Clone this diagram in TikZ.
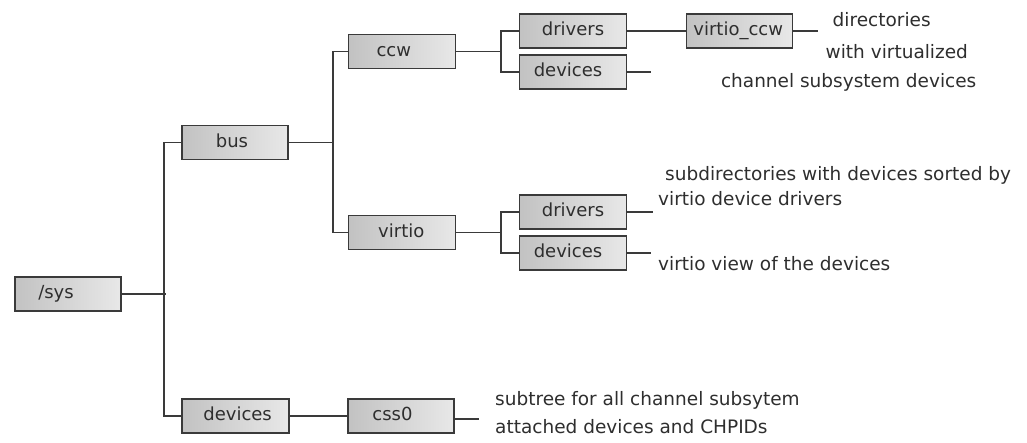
\documentclass[tikz,border=0pt]{standalone}
\usepackage{fontspec}
\setmainfont{DejaVu Sans}
\definecolor{txt}{HTML}{2E2E2E}
\definecolor{lineclr}{HTML}{3A3A3A}
\definecolor{boxline}{HTML}{3A3A3A}
\definecolor{boxL}{HTML}{C2C2C2}
\definecolor{boxR}{HTML}{E8E8E8}
\begin{document}
\begin{tikzpicture}[x=1pt,y=-1pt,
  box/.style={draw=boxline, line width=1.3pt, left color=boxL, right color=boxR,
    minimum height=34pt, minimum width=106pt, inner sep=0pt,
    text height=9.9pt, text depth=0pt, font=\fontsize{18}{20}\selectfont, text=txt},
  conn/.style={draw=lineclr, line width=1.5pt},
  note/.style={anchor=west, inner sep=0pt, text height=10.1pt, text depth=0pt,
    font=\fontsize{18.5}{21}\selectfont, text=txt}]
\useasboundingbox (0,0) rectangle (1027,442);

% boxes
\node[box] (sys) at (68,294) {/sys\hspace*{24pt}};
\node[box] (bus) at (235,142.7) {bus\hspace*{6pt}};
\node[box, minimum width=107pt] (devA) at (235.6,416) {\hspace*{4pt}devices};
\node[box, minimum width=107pt] (ccw) at (402.3,51.5) {ccw\hspace*{17pt}};
\node[box, minimum width=107pt] (virtio) at (402.3,232.5) {virtio\hspace*{2pt}};
\node[box] (css) at (401,416) {css0\hspace*{17pt}};
\node[box, minimum width=107pt] (drv1) at (573,31) {drivers};
\node[box, minimum width=107pt] (dev1) at (573,72) {devices\hspace*{10pt}};
\node[box] (vccw) at (739.7,31) {virtio\_ccw\hspace*{3pt}};
\node[box, minimum width=107pt] (drv2) at (573,212) {drivers};
\node[box, minimum width=107pt] (dev2) at (573,253) {devices\hspace*{10pt}};

% junctions and free ends
\coordinate (j1) at (164,294);
\coordinate (j2) at (333,142.7);
\coordinate (j3) at (501,51.5);
\coordinate (j4) at (501,232.5);
\coordinate (e1) at (818,31);
\coordinate (e2) at (651,72);
\coordinate (e3) at (653,212);
\coordinate (e4) at (651,253);
\coordinate (e5) at (479,419);

% connectors
\draw[conn] (sys.east) -- ([xshift=2pt]j1);
\draw[conn] (bus.west) -| (j1) |- (devA.west);
\draw[conn] (bus.east) -- (j2);
\draw[conn] (ccw.west) -| (j2) |- (virtio.west);
\draw[conn] (ccw.east) -- (j3);
\draw[conn] (drv1.west) -| (j3) |- (dev1.west);
\draw[conn] (virtio.east) -- (j4);
\draw[conn] (drv2.west) -| (j4) |- (dev2.west);
\draw[conn] (drv1.east) -- (vccw.west);
\draw[conn] (vccw.east) -- (e1);
\draw[conn] (dev1.east) -- (e2);
\draw[conn] (drv2.east) -- (e3);
\draw[conn] (dev2.east) -- (e4);
\draw[conn] (devA.east) -- (css.west);
\draw[conn] (css.east |- e5) -- (e5);

% notes
\node[note] (n1) at (832.5,21) {directories};
\node[note] (n2) at (825.5,53) {with virtualized};
\node[note] (n3) at (720.8,82) {channel subsystem devices};
\node[note] (n4) at (665,175) {subdirectories with devices sorted by};
\node[note] (n5) at (658,200) {virtio device drivers};
\node[note] (n6) at (658,265) {virtio view of the devices};
\node[note] (n7) at (495,400) {subtree for all channel subsytem};
\node[note] (n8) at (495,428) {attached devices and CHPIDs};
\end{tikzpicture}
\end{document}
